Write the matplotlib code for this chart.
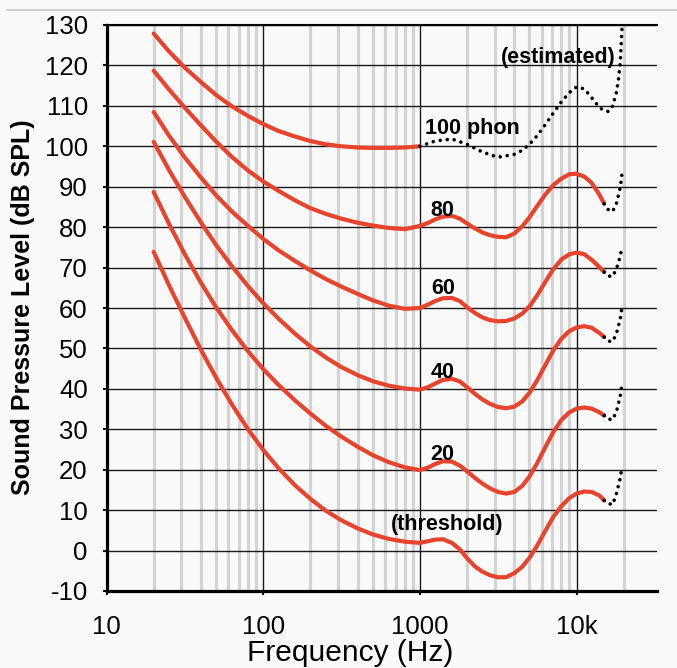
import matplotlib.pyplot as plt
from matplotlib.ticker import FixedLocator, NullFormatter
from matplotlib.lines import Line2D

# Equal-loudness contours, values
freq = [20, 25, 31.5, 40, 50, 63, 80, 100, 125, 160, 200, 250, 315, 400, 500, 630, 800, 1000,
        1120, 1250, 1400, 1600, 1800, 2000, 2240, 2500, 2800, 3150, 3550, 4000, 4500, 5000,
        5600, 6300, 7100, 8000, 9000, 10000, 11200, 12500, 14000, 15000]

threshold = [73.9, 65.7, 57.7, 49.7, 42.8, 36.2, 30.0, 24.9, 20.4, 16.1, 12.8, 9.9, 7.5, 5.5, 4.0, 2.9, 2.2, 1.9,
             2.3, 2.7, 2.8, 1.9, 0.3, -1.9, -3.9, -5.2, -6.1, -6.6, -6.6, -5.6, -4.0, -1.8,
             1.2, 4.8, 8.3, 11.0, 13.0, 14.1, 14.6, 14.5, 13.6, 12.4]
phon20 = [88.7, 80.9, 73.4, 66.3, 60.2, 54.6, 49.3, 44.9, 41.0, 37.1, 33.9, 30.9, 28.2, 25.7, 23.6, 21.9, 20.6, 19.9,
          20.5, 21.4, 22.1, 22.0, 21.0, 19.6, 18.0, 16.6, 15.4, 14.5, 14.1, 14.5, 16.0, 18.3,
          21.6, 25.5, 29.3, 32.3, 34.2, 35.1, 35.4, 35.1, 34.2, 33.4]
phon40 = [101.1, 94.2, 87.6, 81.2, 75.6, 70.4, 65.4, 61.2, 57.4, 53.6, 50.5, 47.8, 45.4, 43.4, 41.9, 40.8, 40.1, 39.8,
          40.4, 41.3, 42.2, 42.5, 41.8, 40.4, 38.8, 37.4, 36.3, 35.5, 35.2, 35.6, 36.9, 39.0,
          42.1, 45.8, 49.5, 52.4, 54.3, 55.2, 55.5, 55.1, 53.8, 52.8]
phon60 = [108.5, 102.7, 97.3, 92.3, 87.9, 83.9, 80.3, 77.1, 74.3, 71.6, 69.3, 67.2, 65.3, 63.5, 61.9, 60.6, 59.8, 60.0,
          60.8, 61.7, 62.4, 62.5, 61.7, 60.2, 58.8, 57.7, 57.0, 56.7, 56.8, 57.4, 58.6, 60.4,
          63.1, 66.4, 69.6, 72.0, 73.3, 73.7, 73.3, 71.9, 70.1, 68.9]
phon80 = [118.7, 114.1, 109.6, 105.2, 101.2, 97.4, 94.0, 91.3, 89.0, 86.6, 84.7, 83.3, 82.1, 81.1, 80.4, 79.8, 79.5, 80.3,
          81.0, 81.9, 82.6, 82.8, 82.1, 80.9, 79.7, 78.7, 78.0, 77.6, 77.5, 78.4, 80.2, 82.4,
          85.2, 88.0, 90.4, 92.0, 93.1, 93.2, 92.5, 90.9, 88.0, 85.8]
phon100 = [127.9, 123.5, 119.5, 115.9, 112.7, 109.9, 107.5, 105.5, 103.8, 102.4, 101.3, 100.5, 100.0, 99.7, 99.6,
           99.6, 99.7, 100.0]

# estimated (dotted) parts
freq_est = [15000, 16000, 17000, 18000, 19000, 19500]
est_threshold = [12.4, 11.6, 11.4, 14.2, 17.9, 20.7]
est20 = [33.4, 32.5, 32.4, 34.5, 38.2, 41.5]
est40 = [52.8, 51.8, 51.7, 53.8, 57.3, 60.3]
est60 = [68.9, 67.9, 67.8, 69.8, 72.8, 75.3]
est80 = [85.8, 84.2, 83.9, 86.0, 89.8, 93.3]

freq_est100 = [1000, 1250, 1600, 2000, 2500, 3150, 4000, 4500, 5000, 5600, 6300, 7100, 8000, 9000, 10000,
               11200, 12500, 14000, 15000, 16000, 17000, 18000, 18500, 19000, 19500]
est100 = [100.0, 101.3, 101.8, 100.5, 98.6, 97.3, 98.0, 99.0, 100.5, 102.6, 105.3, 108.2, 111.0, 113.3, 114.7,
          114.2, 112.0, 109.6, 108.8, 108.6, 110.0, 113.5, 116.5, 120.5, 129.5]

x_ticks = [10, 100, 1000, 10000]
x_labels = ['10', '100', '1000', '10k']
x_minor = [20, 30, 40, 50, 60, 70, 80, 90, 200, 300, 400, 500, 600, 700, 800, 900,
           2000, 3000, 4000, 5000, 6000, 7000, 8000, 9000, 20000]
y_ticks = list(range(-10, 131, 10))

plt.rcParams['font.family'] = ['Liberation Sans', 'DejaVu Sans']
plt.rcParams['axes.unicode_minus'] = False

bg = '#fafafa'
red = '#e8432d'

fig = plt.figure(figsize=(6.77, 6.68), dpi=100, facecolor=bg)
ax = fig.add_axes([106.5 / 677, 1 - 591 / 668, (657 - 106.5) / 677, (591 - 25) / 668])
ax.set_facecolor(bg)
ax.set_xscale('log')
ax.set_xlim(10, 32600)
ax.set_ylim(-10, 130)

ax.set_xticks(x_ticks)
ax.set_xticklabels(x_labels)
ax.xaxis.set_minor_locator(FixedLocator(x_minor))
ax.xaxis.set_minor_formatter(NullFormatter())
ax.set_yticks(y_ticks)

ax.grid(True, which='minor', axis='x', color='#d3d3d3', lw=2.2)
ax.grid(True, which='major', axis='both', color='#1a1a1a', lw=1.0)

ax.tick_params(axis='both', which='major', direction='out', length=3, width=1.5, labelsize=18.5)
ax.tick_params(axis='y', pad=10.5)
ax.tick_params(axis='x', pad=14)
ax.tick_params(which='minor', length=0)

ax.spines['right'].set_visible(False)
ax.spines['left'].set_linewidth(2.3)
ax.spines['bottom'].set_linewidth(2.3)
ax.spines['top'].set_linewidth(1.5)

# red measured contours
line_kw = dict(color=red, lw=3, solid_capstyle='round', solid_joinstyle='round', zorder=3)
for spl in [threshold, phon20, phon40, phon60, phon80]:
    ax.plot(freq, spl, **line_kw)
ax.plot(freq[:len(phon100)], phon100, **line_kw)

# dotted estimated parts
dot_kw = dict(color='black', lw=2.6, linestyle=(0, (0.01, 1.95)), dash_capstyle='round', zorder=3)
for est in [est_threshold, est20, est40, est60, est80]:
    ax.plot(freq_est, est, **dot_kw)
ax.plot(freq_est100, est100, **dot_kw)

# contour labels
lab = dict(ha='center', va='baseline', fontsize=15.5, fontweight='bold', zorder=4)
ax.text(2148, 103.0, '100 phon', **lab)
ax.text(7600, 120.7, '(estimated)', **lab)
ax.text(1393, 82.8, '80', **lab)
ax.text(1400, 63.5, '60', **lab)
ax.text(1400, 42.7, '40', **lab)
ax.text(1380, 22.4, '20', **lab)
ax.text(1500, 5.1, '(threshold)', **lab)

fig.text(350 / 677, 1 - 661 / 668, 'Frequency (Hz)', ha='center', va='baseline', fontsize=21.5)
fig.text(23 / 677, 1 - 307 / 668, 'Sound Pressure Level (dB SPL)', rotation=90,
         ha='center', va='center', fontsize=18, fontweight='bold')

fig.add_artist(Line2D([7 / 677, 1], [1 - 10 / 668, 1 - 10 / 668], color='#c8c8c8', lw=1.2))

fig.savefig('out.png', dpi=100, facecolor=fig.get_facecolor())
